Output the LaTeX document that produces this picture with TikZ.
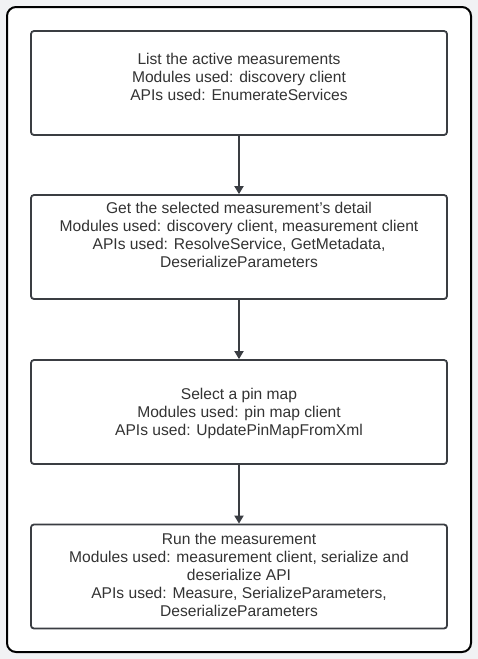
\documentclass[tikz,border=0pt]{standalone}
\usepackage{fontspec}
\setmainfont{Liberation Sans}
\usetikzlibrary{arrows.meta}
\definecolor{bg}{HTML}{F1F2F4}
\definecolor{stroke}{HTML}{3A3D42}
\definecolor{txt}{HTML}{333333}
\begin{document}
\begin{tikzpicture}[x=1pt,y=-1pt,
  stepbox/.style={draw=stroke,line width=1.8pt,fill=white,rounded corners=3pt,minimum width=416pt,minimum height=104pt,inner sep=0pt},
  steptext/.style={text=txt,align=center,inner sep=0pt,font=\fontsize{15.6}{18}\selectfont},
  flow/.style={draw=stroke,line width=1.8pt,-{Triangle[length=8pt,width=9pt]}}]
\fill[bg] (0,0) rectangle (478,659);
\useasboundingbox (0,0) rectangle (478,659);
\draw[stroke,line width=2pt,fill=white,rounded corners=9pt] (7,7) rectangle (471,652);
\node[stepbox] (b1) at (239,83) {};
\node[stepbox] (b2) at (239,247) {};
\node[stepbox] (b3) at (239,412) {};
\node[stepbox] (b4) at (239,576.5) {};
\node[steptext] (t1) at (239,77) {List the active measurements\\Modules used: discovery client\\APIs used: EnumerateServices};
\node[steptext] (t2) at (239,235) {Get the selected measurement{\char"0027}s detail\\Modules used: discovery client, measurement client\\APIs used: ResolveService, GetMetadata,\\DeserializeParameters};
\node[steptext] (t3) at (239,413) {Select a pin map\\Modules used: pin map client\\APIs used: UpdatePinMapFromXml};
\node[steptext] (t4) at (239,575) {Run the measurement\\Modules used: measurement client, serialize and\\deserialize API\\APIs used: Measure, SerializeParameters,\\DeserializeParameters};
\draw[flow] (b1.south) -- (b2.north);
\draw[flow] (b2.south) -- (b3.north);
\draw[flow] (b3.south) -- (b4.north);
\end{tikzpicture}
\end{document}
